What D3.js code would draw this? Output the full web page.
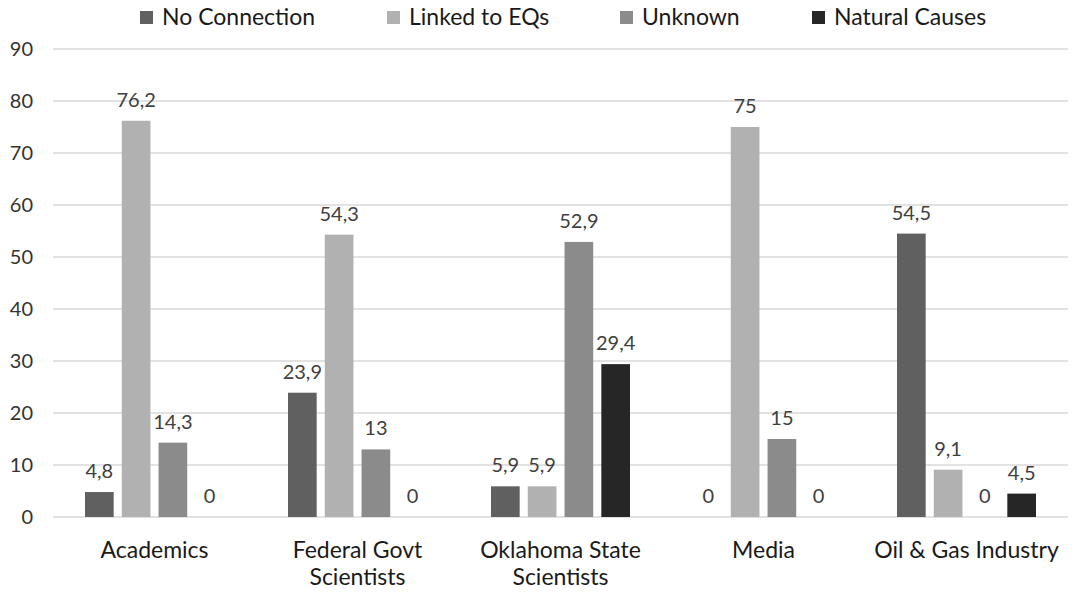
<!DOCTYPE html>
<html>
<head>
<meta charset="utf-8">
<script src="https://cdn.jsdelivr.net/npm/d3@7"></script>
<style>
  body { margin: 0; background: #fff; }
  svg text { font-family: Lato, "Open Sans", sans-serif; }
</style>
</head>
<body>
<svg id="chart" width="1077" height="596"></svg>
<script>
// data
var categories = [["Academics"], ["Federal Govt", "Scientists"], ["Oklahoma State", "Scientists"], ["Media"], ["Oil & Gas Industry"]]
var series = ["No Connection", "Linked to EQs", "Unknown", "Natural Causes"]
var noConnection = [4.8, 23.9, 5.9, 0, 54.5]
var linkedToEQs = [76.2, 54.3, 5.9, 75, 9.1]
var unknown = [14.3, 13, 52.9, 15, 0]
var naturalCauses = [0, 0, 29.4, 0, 4.5]
var yTicks = [0, 10, 20, 30, 40, 50, 60, 70, 80, 90]
var colors = ["#606060", "#b1b1b1", "#8b8b8b", "#262626"]

var values = [noConnection, linkedToEQs, unknown, naturalCauses]

var svg = d3.select("#chart")
var plotLeft = 53, plotRight = 1068, plotTop = 49, plotBottom = 517

var y = d3.scaleLinear().domain([0, 90]).range([plotBottom, plotTop])
var x0 = d3.scaleBand().domain(d3.range(categories.length)).range([plotLeft, plotRight])
var x1 = d3.scaleBand().domain(d3.range(series.length))
    .range([32, x0.bandwidth() - 32]).paddingInner(0.22)

// grid lines
svg.append("g").selectAll("line").data(yTicks).enter().append("line")
    .attr("x1", plotLeft).attr("x2", plotRight)
    .attr("y1", function(d){ return y(d) }).attr("y2", function(d){ return y(d) })
    .attr("stroke", "#d9d9d9").attr("stroke-width", 1.3)

// y axis labels
var yAxis = svg.append("g").attr("transform", "translate(" + (plotLeft - 20) + ",0)")
    .call(d3.axisLeft(y).tickValues(yTicks).tickSize(0).tickPadding(0).tickFormat(d3.format("d")))
yAxis.select(".domain").remove()
yAxis.selectAll("text").attr("font-size", 20).attr("fill", "#333").attr("font-family", "Lato, sans-serif")

// bars
var groups = svg.append("g").selectAll("g").data(categories).enter().append("g")
    .attr("transform", function(d, i){ return "translate(" + x0(i) + ",0)" })

groups.each(function(c, i){
    var g = d3.select(this)
    series.forEach(function(s, k){
        var v = values[k][i]
        g.append("rect")
            .attr("x", x1(k)).attr("width", x1.bandwidth())
            .attr("y", y(v)).attr("height", y(0) - y(v))
            .attr("fill", colors[k])
        g.append("text")
            .attr("x", x1(k) + x1.bandwidth() / 2)
            .attr("y", y(v) - 14)
            .attr("text-anchor", "middle")
            .attr("font-size", 20).attr("fill", "#404040")
            .text(String(v).replace(".", ","))
    })
    // category label
    var t = g.append("text").attr("text-anchor", "middle").attr("font-size", 23).attr("fill", "#1a1a1a")
    c.forEach(function(line, j){
        t.append("tspan").attr("x", x0.bandwidth() / 2).attr("y", 558 + j * 27).text(line)
    })
})

// legend
var legendX = [140, 387, 620, 812]
var legend = svg.append("g").selectAll("g").data(series).enter().append("g")
    .attr("transform", function(d, i){ return "translate(" + legendX[i] + ",11)" })
legend.append("rect").attr("width", 13).attr("height", 13).attr("fill", function(d, i){ return colors[i] })
legend.append("text").attr("x", 22).attr("y", 14).attr("font-size", 23).attr("fill", "#1a1a1a")
    .text(function(d){ return d })
</script>
</body>
</html>
